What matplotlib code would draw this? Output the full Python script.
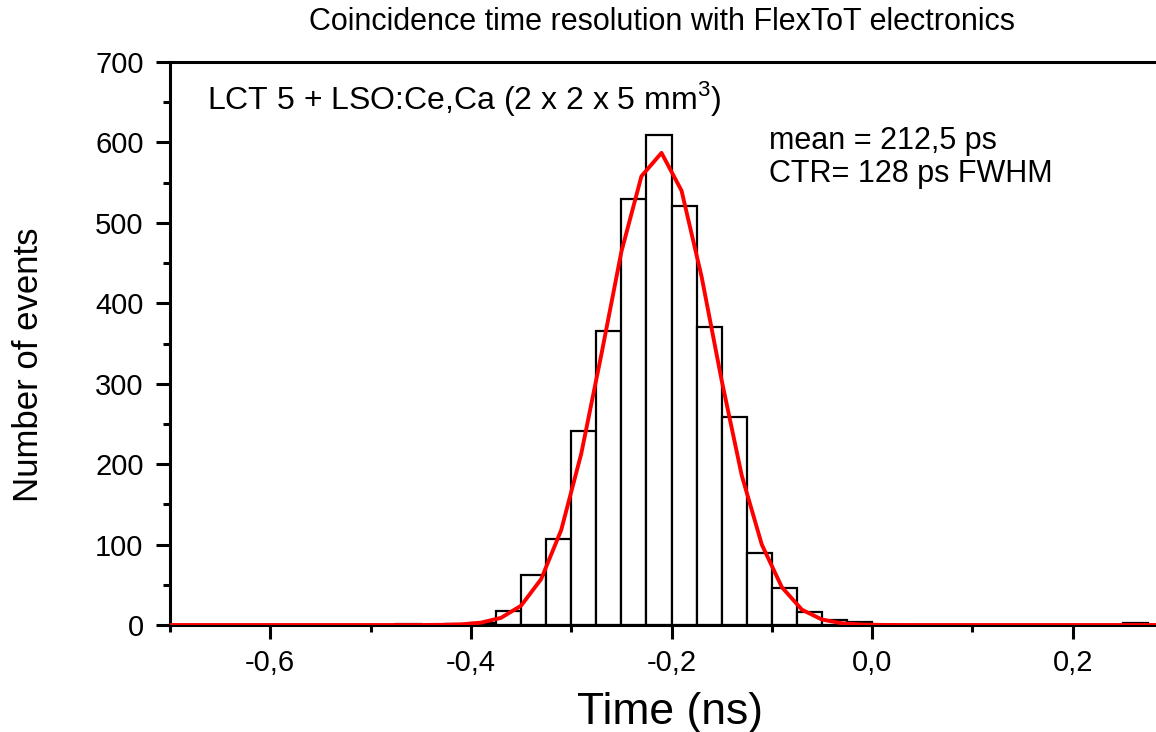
import matplotlib
matplotlib.use('Agg')
import matplotlib.pyplot as plt
from matplotlib.ticker import MultipleLocator, FuncFormatter

# histogram bins (left edge, ns) and counts
bin_left = [-0.475, -0.425, -0.400, -0.375, -0.350, -0.325, -0.300, -0.275,
            -0.250, -0.225, -0.200, -0.175, -0.150, -0.125, -0.100, -0.075,
            -0.050, -0.025, 0.250]
counts = [1, 1, 2, 18, 62, 107, 241, 365, 530, 609, 521, 370, 258, 90, 46,
          16, 6, 4, 2]
bin_width = 0.025

# gaussian fit
fit_x = [-0.71, -0.45, -0.43, -0.41, -0.39, -0.37, -0.35, -0.33, -0.31, -0.29,
         -0.27, -0.25, -0.23, -0.21, -0.19, -0.17, -0.15, -0.13, -0.11, -0.09,
         -0.07, -0.05, -0.03, -0.01, 0.01, 0.03, 0.29]
fit_y = [0, 0, 0.2, 0.8, 2.9, 8.9, 24, 57, 118, 213, 336, 464, 558, 587, 540,
         433, 304, 186, 100, 47, 19, 6.8, 2.1, 0.6, 0.1, 0, 0]

title = 'Coincidence time resolution with FlexToT electronics'
sample_label = 'LCT 5 + LSO:Ce,Ca (2 x 2 x 5 mm$^3$)'
stats_label = 'mean = 212,5 ps\nCTR= 128 ps FWHM'

plt.rcParams['font.family'] = ['Liberation Sans', 'DejaVu Sans']
plt.rcParams['mathtext.fontset'] = 'custom'
plt.rcParams['mathtext.rm'] = 'Liberation Sans'

W, H = 1156, 732
fig = plt.figure(figsize=(W / 100.0, H / 100.0), dpi=100)
ax = fig.add_axes([170.0 / W, 1 - 625.0 / H, (1156 - 170.0) / W, (625 - 62.0) / H])

ax.bar(bin_left, counts, width=bin_width, align='edge', facecolor='white',
       edgecolor='black', linewidth=1.6, zorder=2)
ax.plot(fit_x, fit_y, color='#ff0000', linewidth=2.8, zorder=3)

ax.set_xlim(-0.7, 0.283)
ax.set_ylim(0, 700)

for s in ['left', 'bottom', 'top']:
    ax.spines[s].set_linewidth(2.2)
ax.spines['right'].set_visible(False)

ax.xaxis.set_major_locator(MultipleLocator(0.2))
ax.xaxis.set_minor_locator(MultipleLocator(0.1))
ax.yaxis.set_major_locator(MultipleLocator(100))
ax.yaxis.set_minor_locator(MultipleLocator(50))
ax.xaxis.set_major_formatter(FuncFormatter(lambda v, p: ('%.1f' % v).replace('.', ',').replace('-0,0', '0,0')))
ax.tick_params(which='major', direction='out', length=10, width=2.2,
               labelsize=21)
ax.tick_params(axis='y', which='major', pad=9)
ax.tick_params(axis='x', which='major', pad=7)
ax.tick_params(which='minor', direction='out', length=5, width=2.2)
ax.tick_params(top=False, which='both')

ax.set_xlabel('Time (ns)', fontsize=32)
ax.xaxis.set_label_coords(0.507, -0.119)
ax.set_ylabel('Number of events', fontsize=25)
ax.yaxis.set_label_coords(-0.127, 0.462)
fig.text(662.0 / W, 1 - 22.0 / H, title, fontsize=22, ha='center', va='center')

ax.text(0.0375, 0.935, sample_label, transform=ax.transAxes,
        fontsize=23, ha='left', va='center')
ax.text(0.608, 0.83, stats_label, transform=ax.transAxes, fontsize=22,
        ha='left', va='center', linespacing=1.15)

fig.savefig('out.png', dpi=100)
